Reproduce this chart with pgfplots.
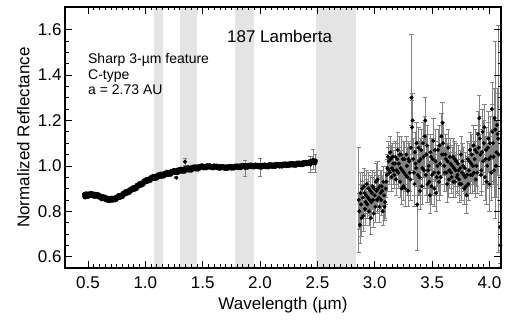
\documentclass[border=0pt]{standalone}
\usepackage{fontspec}
\setmainfont{Liberation Sans}
\usepackage{pgfplots}
\pgfplotsset{compat=1.18}
\definecolor{bandgray}{RGB}{228,228,228}
\definecolor{errgray}{RGB}{130,130,130}
\begin{document}
\begin{tikzpicture}
\useasboundingbox (0,0) rectangle (505pt,320pt);
\begin{axis}[
  scale only axis, width=436pt, height=261pt,
  at={(65pt,52pt)}, anchor=south west,
  xmin=0.3, xmax=4.1, ymin=0.55, ymax=1.7,
  xtick={0.5,1,1.5,2,2.5,3,3.5,4}, minor x tick num=9,
  ytick={0.6,0.8,1.0,1.2,1.4,1.6}, minor y tick num=3,
  tick align=inside, major tick length=7pt, minor tick length=3.5pt,
  every tick/.style={black, line width=0.7pt},
  axis line style={line width=1.1pt},
  axis on top,
  /pgf/number format/assume math mode=true,
  ticklabel style={font=\fontsize{17}{20}\selectfont},
  xticklabel style={yshift=-5pt,/pgf/number format/fixed,/pgf/number format/fixed zerofill,/pgf/number format/precision=1},
  yticklabel style={/pgf/number format/fixed,/pgf/number format/fixed zerofill,/pgf/number format/precision=1},
  xlabel={Wavelength (µm)},
  xlabel style={at={(axis description cs:0.5,-0.098)}, anchor=north, font=\fontsize{17}{20}\selectfont},
  ylabel={Normalized Reflectance},
  ylabel style={at={(axis description cs:-0.0734,0.5)}, anchor=south, font=\fontsize{17}{20}\selectfont},
]
% telluric / instrument bands
\addplot[fill=bandgray, draw=none, forget plot] coordinates {(1.075,0.55) (1.15,0.55) (1.15,1.7) (1.075,1.7)} -- cycle;
\addplot[fill=bandgray, draw=none, forget plot] coordinates {(1.30,0.55) (1.45,0.55) (1.45,1.7) (1.30,1.7)} -- cycle;
\addplot[fill=bandgray, draw=none, forget plot] coordinates {(1.78,0.55) (1.95,0.55) (1.95,1.7) (1.78,1.7)} -- cycle;
\addplot[fill=bandgray, draw=none, forget plot] coordinates {(2.49,0.55) (2.84,0.55) (2.84,1.7) (2.49,1.7)} -- cycle;

% short-wave 0.47-2.48 um section
\addplot[only marks, mark=*, mark size=2.5pt, black] table {
x y
0.47 0.873
0.475 0.864
0.48 0.865
0.485 0.876
0.49 0.873
0.50 0.866
0.51 0.876
0.52 0.870
0.53 0.878
0.54 0.869
0.55 0.875
0.56 0.866
0.57 0.874
0.58 0.867
0.59 0.872
0.60 0.862
0.61 0.866
0.62 0.856
0.63 0.864
0.64 0.856
0.65 0.861
0.66 0.851
0.67 0.856
0.68 0.847
0.69 0.856
0.70 0.849
0.71 0.857
0.72 0.850
0.73 0.857
0.74 0.851
0.75 0.862
0.76 0.859
0.77 0.869
0.78 0.862
0.79 0.871
0.80 0.866
0.81 0.879
0.82 0.876
0.83 0.886
0.84 0.880
0.85 0.889
0.86 0.884
0.87 0.896
0.88 0.893
0.89 0.902
0.90 0.896
0.91 0.905
0.92 0.900
0.93 0.914
0.94 0.911
0.95 0.921
0.96 0.915
0.97 0.924
0.98 0.920
0.99 0.933
1.00 0.930
1.01 0.939
1.02 0.933
1.03 0.941
1.04 0.936
1.05 0.948
1.06 0.944
1.07 0.953
1.08 0.945
1.09 0.953
1.10 0.947
1.11 0.959
1.12 0.954
1.13 0.963
1.14 0.955
1.15 0.963
1.16 0.956
1.17 0.967
1.18 0.963
1.19 0.971
1.20 0.963
1.21 0.970
1.22 0.964
1.23 0.975
1.24 0.971
1.25 0.979
1.26 0.971
1.27 0.978
1.28 0.971
1.29 0.982
1.30 0.977
1.31 0.985
1.32 0.977
1.33 0.984
1.34 0.977
1.35 0.988
1.36 0.983
1.37 0.991
1.38 0.982
1.39 0.989
1.40 0.982
1.41 0.993
1.42 0.988
1.43 0.995
1.44 0.987
1.45 0.994
1.46 0.987
1.47 0.997
1.48 0.992
1.49 0.999
1.50 0.998
1.51 0.992
1.52 0.997
1.53 0.992
1.54 1.000
1.55 0.996
1.56 1.000
1.57 0.994
1.58 0.997
1.59 0.992
1.60 0.999
1.61 0.995
1.62 0.998
1.63 0.992
1.64 0.996
1.65 0.990
1.66 0.997
1.67 0.993
1.68 0.996
1.69 0.990
1.70 0.994
1.71 0.989
1.72 0.996
1.73 0.992
1.74 0.997
1.75 0.991
1.76 0.995
1.77 0.991
1.78 0.998
1.79 0.995
1.80 0.999
1.81 0.993
1.82 0.998
1.83 0.993
1.84 1.001
1.85 0.997
1.86 1.001
1.87 0.995
1.88 1.000
1.89 0.995
1.90 1.002
1.91 0.998
1.92 1.003
1.93 0.997
1.94 1.001
1.95 0.996
1.96 1.003
1.97 0.999
1.98 1.002
1.99 0.996
2.00 1.000
2.01 0.995
2.02 1.002
2.03 0.999
2.04 1.003
2.05 0.997
2.06 1.001
2.07 0.996
2.08 1.004
2.09 1.000
2.10 1.004
2.11 0.998
2.12 1.003
2.13 0.998
2.14 1.006
2.15 1.002
2.16 1.006
2.17 1.000
2.18 1.005
2.19 1.000
2.20 1.007
2.21 1.003
2.22 1.008
2.23 1.002
2.24 1.007
2.25 1.002
2.26 1.009
2.27 1.005
2.28 1.010
2.29 1.004
2.30 1.008
2.31 1.003
2.32 1.011
2.33 1.007
2.34 1.012
2.35 1.006
2.36 1.011
2.37 1.006
2.38 1.014
2.39 1.010
2.40 1.015
2.41 1.010
2.42 1.015
2.43 1.011
2.44 1.019
2.45 1.016
2.46 1.021
2.47 1.016
2.48 1.021
};
% a few points with visible error bars in the short-wave section
\addplot[only marks, mark=*, mark size=1.8pt, black,
  error bars/.cd, y dir=both, y explicit,
  error bar style={errgray, line width=0.6pt},
  error mark options={rotate=90, mark size=2.2pt, errgray, line width=0.6pt}]
  table[x index=0, y index=1, y error index=2] {
x y e
1.27 0.948 0.004
1.346 1.018 0.015
1.87 0.990 0.035
2.00 0.994 0.040
2.44 1.005 0.035
2.46 1.028 0.045
2.48 1.010 0.040
};

% long-wave 2.86-4.10 um section
\addplot[only marks, mark=*, mark size=1.8pt, black,
  error bars/.cd, y dir=both, y explicit,
  error bar style={errgray, line width=0.6pt},
  error mark options={rotate=90, mark size=2.2pt, errgray, line width=0.6pt}]
  table[x index=0, y index=1, y error index=2] {
x y e
2.860 0.85 0.23
2.865 0.80 0.08
2.870 0.74 0.08
2.875 0.88 0.09
2.880 0.83 0.09
2.885 0.77 0.08
2.890 0.90 0.07
2.895 0.86 0.07
2.900 0.78 0.07
2.905 0.91 0.08
2.910 0.88 0.08
2.915 0.81 0.07
2.920 0.84 0.07
2.925 0.87 0.07
2.930 0.92 0.06
2.935 0.83 0.06
2.940 0.86 0.07
2.945 0.90 0.07
2.950 0.80 0.06
2.955 0.85 0.07
2.960 0.89 0.07
2.965 0.77 0.07
2.970 0.84 0.07
2.975 0.88 0.07
2.980 0.91 0.07
2.985 0.85 0.06
2.990 0.79 0.06
2.995 0.90 0.07
3.000 0.87 0.07
3.005 0.82 0.07
3.010 0.93 0.08
3.015 0.89 0.07
3.020 0.85 0.06
3.025 0.94 0.08
3.030 0.90 0.06
3.035 0.86 0.06
3.040 0.82 0.07
3.045 0.91 0.07
3.050 0.88 0.07
3.055 0.85 0.07
3.060 0.91 0.07
3.065 0.89 0.07
3.070 0.80 0.06
3.075 0.93 0.07
3.080 0.87 0.06
3.085 0.82 0.06
3.090 0.84 0.07
3.095 0.90 0.07
3.100 0.93 0.07
3.105 0.96 0.07
3.110 0.99 0.06
3.115 1.04 0.07
3.120 1.02 0.06
3.125 0.98 0.06
3.130 0.97 0.05
3.135 1.06 0.07
3.140 1.03 0.06
3.145 0.95 0.06
3.150 0.99 0.05
3.155 1.04 0.06
3.160 1.01 0.06
3.165 0.98 0.06
3.170 0.96 0.06
3.175 1.01 0.07
3.180 1.04 0.07
3.185 0.94 0.07
3.190 0.98 0.06
3.195 1.03 0.07
3.200 1.07 0.08
3.205 0.97 0.07
3.210 1.01 0.07
3.215 1.05 0.08
3.220 0.93 0.07
3.225 0.99 0.08
3.230 1.05 0.08
3.235 0.90 0.07
3.240 0.98 0.07
3.245 1.03 0.08
3.250 0.91 0.06
3.255 0.97 0.07
3.260 1.03 0.08
3.265 0.90 0.08
3.270 0.96 0.07
3.275 1.05 0.08
3.280 1.00 0.08
3.285 0.95 0.08
3.290 0.89 0.07
3.295 1.03 0.08
3.300 1.02 0.08
3.305 0.97 0.08
3.310 0.94 0.09
3.315 1.08 0.10
3.320 1.30 0.28
3.325 1.17 0.12
3.330 1.20 0.12
3.335 1.03 0.09
3.340 0.97 0.10
3.345 0.92 0.10
3.350 1.06 0.09
3.355 1.01 0.09
3.360 0.99 0.08
3.365 1.10 0.09
3.370 0.83 0.20
3.375 0.96 0.09
3.380 1.08 0.09
3.385 1.02 0.09
3.390 0.95 0.08
3.395 0.89 0.08
3.400 1.03 0.09
3.405 1.07 0.09
3.410 0.91 0.08
3.415 0.99 0.08
3.420 1.10 0.09
3.425 1.04 0.09
3.430 0.98 0.08
3.435 1.13 0.09
3.440 1.20 0.10
3.445 0.96 0.09
3.450 1.05 0.09
3.455 1.09 0.09
3.460 0.92 0.08
3.465 0.98 0.08
3.470 1.00 0.09
3.475 0.93 0.09
3.480 0.87 0.08
3.485 1.06 0.08
3.490 1.04 0.08
3.495 0.91 0.08
3.500 0.96 0.09
3.505 1.03 0.09
3.510 1.11 0.10
3.515 0.97 0.09
3.520 0.90 0.08
3.525 1.07 0.09
3.530 1.02 0.09
3.535 0.88 0.08
3.540 0.95 0.08
3.545 1.00 0.09
3.550 1.07 0.09
3.555 0.97 0.08
3.560 0.93 0.08
3.565 1.09 0.09
3.570 1.01 0.09
3.575 0.95 0.08
3.580 1.13 0.10
3.585 1.05 0.09
3.590 1.19 0.09
3.595 1.10 0.09
3.600 1.05 0.09
3.605 1.00 0.08
3.610 0.97 0.08
3.615 1.05 0.09
3.620 1.03 0.09
3.625 0.97 0.08
3.630 0.92 0.08
3.635 1.02 0.08
3.640 1.08 0.08
3.645 0.94 0.08
3.650 0.98 0.08
3.655 1.04 0.08
3.660 1.01 0.08
3.665 0.97 0.07
3.670 0.95 0.07
3.675 1.00 0.08
3.680 1.04 0.08
3.685 0.93 0.07
3.690 0.99 0.07
3.695 1.03 0.08
3.700 0.93 0.07
3.705 0.98 0.07
3.710 1.02 0.08
3.715 0.95 0.07
3.720 0.96 0.07
3.725 1.01 0.08
3.730 0.98 0.07
3.735 0.94 0.07
3.740 0.92 0.08
3.745 0.99 0.08
3.750 1.05 0.08
3.755 0.92 0.07
3.760 0.97 0.07
3.765 1.02 0.08
3.770 1.00 0.08
3.775 0.96 0.07
3.780 0.90 0.07
3.785 0.99 0.07
3.790 0.95 0.07
3.795 0.91 0.08
3.800 0.87 0.08
3.805 0.96 0.08
3.810 1.03 0.08
3.815 0.92 0.07
3.820 0.98 0.07
3.825 1.02 0.08
3.830 1.07 0.08
3.835 0.96 0.08
3.840 1.01 0.08
3.845 1.05 0.09
3.850 0.96 0.08
3.855 1.00 0.08
3.860 1.09 0.09
3.865 0.97 0.08
3.870 1.03 0.08
3.875 1.07 0.09
3.880 0.94 0.08
3.885 1.00 0.09
3.890 1.06 0.09
3.895 0.97 0.09
3.900 1.14 0.10
3.905 1.08 0.10
3.910 1.21 0.10
3.915 1.12 0.10
3.920 1.05 0.09
3.925 0.96 0.09
3.930 0.98 0.09
3.935 1.06 0.10
3.940 1.15 0.10
3.945 1.02 0.10
3.950 1.10 0.10
3.955 1.17 0.10
3.960 0.95 0.10
3.965 1.03 0.10
3.970 1.07 0.10
3.975 0.93 0.10
3.980 1.00 0.10
3.985 1.08 0.11
3.990 1.12 0.12
3.995 1.03 0.12
4.000 0.92 0.12
4.005 1.10 0.12
4.010 1.04 0.11
4.015 0.97 0.12
4.020 1.25 0.12
4.025 1.15 0.12
4.030 1.10 0.12
4.035 1.04 0.12
4.040 0.98 0.12
4.045 1.21 0.13
4.050 1.16 0.39
4.055 1.00 0.14
4.060 1.06 0.14
4.065 1.18 0.16
4.070 1.14 0.18
4.075 1.12 0.50
4.080 1.05 0.20
4.090 0.73 0.10
4.095 0.65 0.08
};

\node[anchor=north west, inner sep=0pt, align=left, font=\fontsize{14}{15.5}\selectfont]
  at (axis cs:0.5,1.496) {Sharp 3-µm feature\\C-type\\a = 2.73 AU};
\node[font=\fontsize{17}{20}\selectfont] at (axis cs:2.17,1.571) {187 Lamberta};
\end{axis}
\end{tikzpicture}
\end{document}
